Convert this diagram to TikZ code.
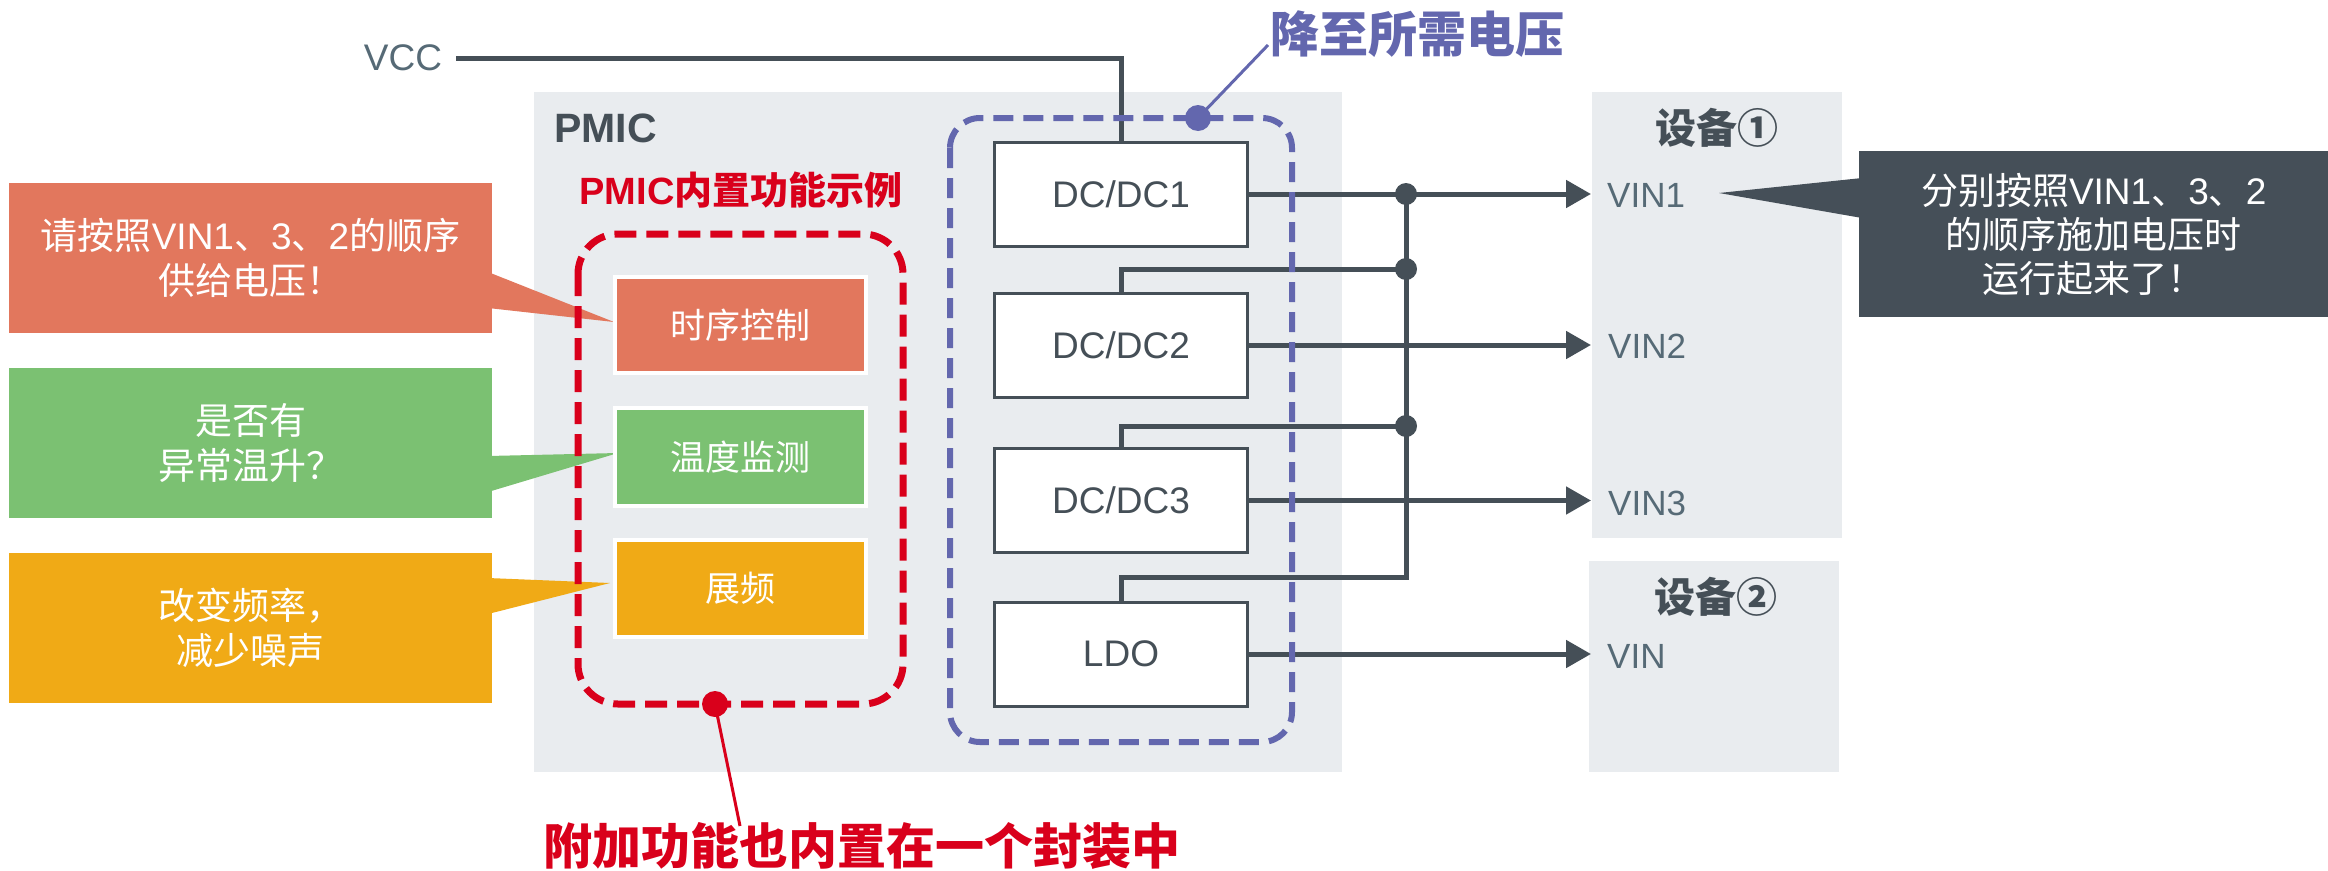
\documentclass[tikz,border=0pt]{standalone}
\usepackage{fontspec}
\setmainfont{Liberation Sans}
\newfontfamily\cjk{Noto Sans CJK SC}
\usetikzlibrary{arrows.meta}
\definecolor{bgG}{HTML}{E9ECEF}
\definecolor{lineC}{HTML}{454F57}
\definecolor{labC}{HTML}{566A76}
\definecolor{orC}{HTML}{E2775D}
\definecolor{grC}{HTML}{7BC172}
\definecolor{yeC}{HTML}{F0AA16}
\definecolor{rdC}{HTML}{D9001B}
\definecolor{blC}{HTML}{6367AE}
\definecolor{dkC}{HTML}{454F58}
\newcommand\zh[1]{{\cjk #1}}
\begin{document}
\begin{tikzpicture}[x=1pt,y=-1pt,
  bg/.style={fill=bgG},
  wire/.style={draw=lineC,line width=5pt},
  arr/.style={wire,-{Triangle[length=25pt,width=27pt]}},
  dcbox/.style={draw=lineC,line width=3pt,fill=white,minimum width=253pt,minimum height=104pt,inner sep=0pt,font=\fontsize{37}{40}\selectfont,text=lineC},
  fbox/.style={draw=white,line width=4pt,minimum width=251pt,inner sep=0pt,text=white,font=\cjk\fontsize{35}{40}\selectfont},
  callbox/.style={minimum width=483pt,minimum height=150pt,inner sep=0pt,text=white,align=center,font=\fontsize{37}{45}\selectfont},
  lab/.style={text=labC,inner sep=0pt,font=\fontsize{35}{40}\selectfont},
  dev/.style={text=lineC,inner sep=0pt,font=\cjk\bfseries\fontsize{41}{44}\selectfont},
  dot/.style={circle,fill=lineC,minimum size=22pt,inner sep=0pt},
  bigdot/.style={circle,minimum size=26pt,inner sep=0pt},
]
\useasboundingbox (0,0) rectangle (2328,870);
% backgrounds
\path[bg] (534,92) rectangle (1342,772);
\path[bg] (1592,92) rectangle (1842,538);
\path[bg] (1589,561) rectangle (1839,772);
\node[anchor=west,inner sep=0pt,text=lineC,font=\bfseries\fontsize{41}{44}\selectfont] (pmiclab) at (554,128) {PMIC};
\node[dev] (dev1) at (1717,128) {设备①};
\node[dev] (dev2) at (1716,597) {设备②};

% callouts
\node[callbox,fill=orC] (c1) at (250.5,258) {\zh{请按照}VIN1\zh{、}3\zh{、}2\zh{的顺序}\\\zh{供给电压！}};
\node[callbox,fill=grC] (c2) at (250.5,443) {\zh{是否有}\\\zh{异常温升？}};
\node[callbox,fill=yeC] (c3) at (250.5,628) {\zh{改变频率，}\\\zh{减少噪声}};
\fill[orC] (488,272) -- (614,322) -- (488,308) -- cycle;
\fill[grC] (488,456) -- (618,453) -- (488,492) -- cycle;
\fill[yeC] (488,578) -- (610,583) -- (488,614) -- cycle;

% function group
\node[text=rdC,font=\bfseries\fontsize{38}{40}\selectfont] (ftitle) at (741,190) {PMIC\zh{内置功能示例}};
\draw[rdC,line width=7pt,dash pattern=on 22pt off 10pt,rounded corners=40pt] (578,234) rectangle (903,704);
\node[fbox,fill=orC,minimum height=96pt] (f1) at (740,325) {时序控制};
\node[fbox,fill=grC,minimum height=98pt] (f2) at (740,457) {温度监测};
\node[fbox,fill=yeC,minimum height=97pt] (f3) at (740,588.5) {展频};
\node[bigdot,fill=rdC] (rdot) at (715,704) {};
\node[text=rdC,inner sep=0pt,font=\cjk\bfseries\fontsize{49}{50}\selectfont] (rtitle) at (862,846) {附加功能也内置在一个封装中};
\coordinate (rl) at (740,826);
\draw[rdC,line width=3pt] (rdot.center) -- (rl);

% converters
\node[dcbox] (dc1) at (1121,194) {DC/DC1};
\node[dcbox] (dc2) at (1121,345) {DC/DC2};
\node[dcbox] (dc3) at (1121,500.5) {DC/DC3};
\node[dcbox] (ldo) at (1121,654) {LDO};

\node[lab,font=\fontsize{37}{40}\selectfont] (vcc) at (403,58) {VCC};
\draw[wire,shorten <=14pt] (vcc.east) -- (vcc.east -| dc1.north) -- (dc1.north);

\coordinate (j1) at (1406,194);
\coordinate (j2) at (1406,269);
\coordinate (j3) at (1406,426);
\coordinate (j4) at (1406,577);
\draw[wire] (j1) -- (j4) -- (j4 -| ldo.north) -- (ldo.north);
\draw[wire] (j2) -- (j2 -| dc2.north) -- (dc2.north);
\draw[wire] (j3) -- (j3 -| dc3.north) -- (dc3.north);

\node[lab,anchor=west] (vin1) at (1607,195) {VIN1};
\node[lab,anchor=west] (vin2) at (1608,346) {VIN2};
\node[lab,anchor=west] (vin3) at (1608,503) {VIN3};
\node[lab,anchor=west] (vin) at (1607,656) {VIN};
\coordinate (t1) at (1591,194);
\coordinate (t2) at (1591,345);
\coordinate (t3) at (1591,500.5);
\coordinate (t4) at (1591,654);
\draw[arr] (dc1.east) -- (t1);
\draw[arr] (dc2.east) -- (t2);
\draw[arr] (dc3.east) -- (t3);
\draw[arr] (ldo.east) -- (t4);
\node[dot] (d1) at (j1) {};
\node[dot] (d2) at (j2) {};
\node[dot] (d3) at (j3) {};

% blue group
\draw[blC,line width=6pt,dash pattern=on 20pt off 10pt,rounded corners=30pt] (950,118) rectangle (1292,742);
\node[bigdot,fill=blC] (bdot) at (1198,118) {};
\node[text=blC,inner sep=0pt,font=\cjk\bfseries\fontsize{49}{50}\selectfont] (btitle) at (1417,34) {降至所需电压};
\coordinate (bl) at (1268,45);
\draw[blC,line width=3pt] (bdot.center) -- (bl);

% dark callout
\node[fill=dkC,minimum width=469pt,minimum height=166pt,inner sep=0pt,anchor=north west,text=white,align=center,font=\fontsize{37}{44}\selectfont] (c4) at (1859,151) {\zh{分别按照}VIN1\zh{、}3\zh{、}2\\\zh{的顺序施加电压时}\\\zh{运行起来了！}};
\fill[dkC] (1862,178) -- (1719,193) -- (1862,218) -- cycle;
\end{tikzpicture}
\end{document}
